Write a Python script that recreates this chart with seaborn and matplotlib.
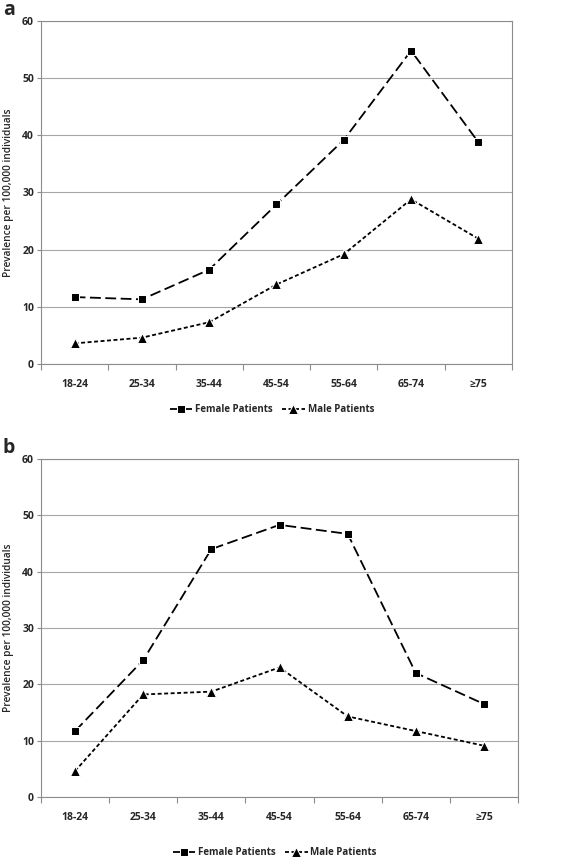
import pandas as pd
import seaborn as sns
import matplotlib.pyplot as plt
from matplotlib.ticker import FixedLocator

# age groups and prevalence per 100,000
ages = ["18-24", "25-34", "35-44", "45-54", "55-64", "65-74", "≥75"]
female_a = [11.7, 11.3, 16.5, 27.9, 39.2, 54.8, 38.8]
male_a = [3.6, 4.6, 7.3, 13.9, 19.2, 28.8, 21.9]
female_b = [11.7, 24.3, 44.0, 48.3, 46.7, 22.0, 16.5]
male_b = [4.6, 18.2, 18.7, 23.0, 14.3, 11.7, 9.1]

sns.set_theme(style="white")
plt.rcParams['font.family'] = ['Open Sans', 'DejaVu Sans']

fig = plt.figure(figsize=(5.67, 8.59), dpi=100)
ax_a = fig.add_axes([0.0723, 0.5763, 0.8307, 0.3993])
ax_b = fig.add_axes([0.0723, 0.0722, 0.8413, 0.3935])


def make_df(female, male):
    return pd.DataFrame({
        "age": ages * 2,
        "value": female + male,
        "group": ["Female Patients"] * len(ages) + ["Male Patients"] * len(ages),
    })


def draw(ax, df, letter, legend_y):
    sns.lineplot(
        data=df, x="age", y="value", style="group",
        markers={"Female Patients": "s", "Male Patients": "^"},
        dashes={"Female Patients": (6, 2.5), "Male Patients": (2.2, 1.4)},
        color="black", linewidth=1.3, markersize=5.5, ax=ax, legend=True,
    )
    # triangles look bigger in the original
    for ln in ax.lines:
        if ln.get_marker() == "^":
            ln.set_markersize(7)
    handles, labels = ax.get_legend_handles_labels()
    pairs = [(h, l) for h, l in zip(handles, labels) if l in ("Female Patients", "Male Patients")]
    for h, _ in pairs:
        if h.get_marker() == "^":
            h.set_markersize(7)
    ax.legend([p[0] for p in pairs], [p[1] for p in pairs], loc="center",
              bbox_to_anchor=(0.49, legend_y), ncol=2, frameon=False,
              handlelength=2.3, columnspacing=1.0, handletextpad=0.3,
              prop={"size": 7, "weight": "bold"})

    ax.set_xlim(-0.5, len(ages) - 0.5)
    ax.set_ylim(0, 60)
    ax.set_yticks(range(0, 61, 10))
    ax.yaxis.grid(True, color="#a6a6a6", linewidth=0.8)
    ax.xaxis.grid(False)
    ax.set_axisbelow(True)
    for s in ax.spines.values():
        s.set_color("#8c8c8c")
        s.set_linewidth(0.8)

    ax.xaxis.set_minor_locator(FixedLocator([i - 0.5 for i in range(len(ages) + 1)]))
    ax.tick_params(axis="x", which="major", length=0, pad=11, labelsize=7.5)
    ax.tick_params(axis="x", which="minor", bottom=True, length=4, width=0.8, color="#8c8c8c")
    ax.tick_params(axis="y", left=True, length=3, width=0.8, color="#8c8c8c", labelsize=7.5, pad=2)
    for t in ax.get_xticklabels() + ax.get_yticklabels():
        t.set_fontweight("bold")

    ax.set_xlabel("")
    ax.set_ylabel("Prevalence per 100,000 individuals", fontsize=7.3,
                  fontweight="semibold", labelpad=6)
    ax.text(-0.081, 1.003, letter, transform=ax.transAxes, fontsize=14,
            fontweight="bold", va="bottom", ha="left")


draw(ax_a, make_df(female_a, male_a), "a", -0.133)
draw(ax_b, make_df(female_b, male_b), "b", -0.165)

fig.savefig("out.png", dpi=100)
